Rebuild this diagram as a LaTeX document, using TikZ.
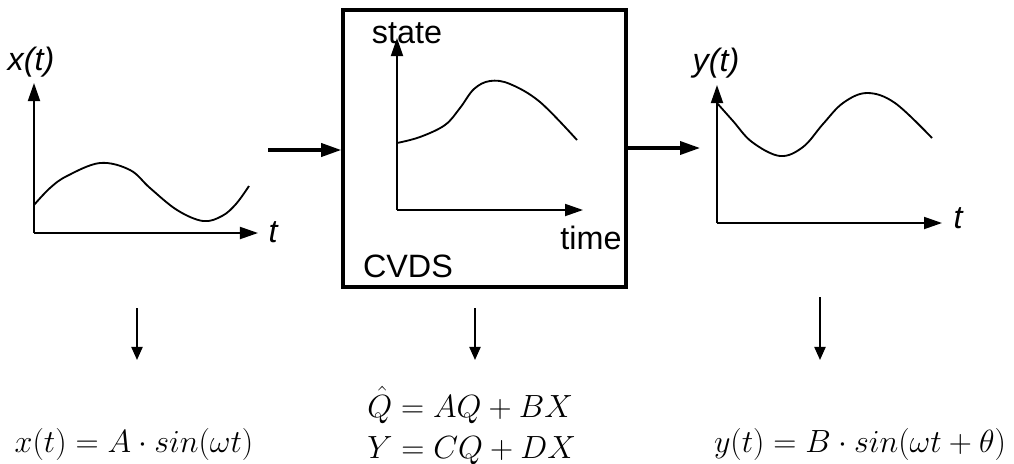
\documentclass[tikz,border=0pt]{standalone}
\usepackage{fontspec}
\setsansfont{Liberation Sans}
\usetikzlibrary{arrows.meta}
\newcommand{\ancho}[1]{\scalebox{1.1}{#1}}
\begin{document}
\begin{tikzpicture}
  [x=0.025cm,y=-0.025cm,
   eje/.style={line width=1.3pt,-{Triangle[length=0.45cm,width=0.3cm]}},
   flujo/.style={line width=2.2pt,-{Triangle[length=0.5cm,width=0.33cm]}},
   baja/.style={line width=1.4pt,-{Triangle[length=0.33cm,width=0.28cm]}},
   curva/.style={line width=1.3pt},
   txt/.style={font=\fontsize{23}{27}\selectfont\sffamily,inner sep=0pt},
   itxt/.style={font=\fontsize{23}{27}\selectfont\sffamily\itshape,inner sep=0pt},
   ecu/.style={font=\fontsize{20.74}{23}\selectfont,inner sep=0pt}]
  \useasboundingbox (0,0) rectangle (1014,463);

  \node[draw,line width=2.5pt,minimum width=7.075cm,minimum height=6.925cm,inner sep=0pt] (cvds) at (484.5,148.5) {};

  \coordinate (o1) at (34,233);
  \coordinate (y1) at (34,83);
  \coordinate (x1) at (258,233);
  \coordinate (o2) at (397,210);
  \coordinate (y2) at (397,38);
  \coordinate (x2) at (583,210);
  \coordinate (o3) at (717,223);
  \coordinate (y3) at (717,85);
  \coordinate (x3) at (942,223);

  \foreach \from/\to in {o1/y1,o1/x1,o2/y2,o2/x2,o3/y3,o3/x3}
    \draw[eje] (\from) -- (\to);

  \node[itxt] (xlab) at (31,62) {x(t)};
  \node[itxt] (t1) at (273,232) {t};
  \node[txt] (state) at (407,33) {state};
  \node[txt] (time) at (591,238) {time};
  \node[txt] (name) at (408,266) {CVDS};
  \node[itxt] (ylab) at (716,63) {y(t)};
  \node[itxt] (t3) at (958,218) {t};

  % curvas de las senales
  \draw[curva] plot[smooth,tension=0.6] coordinates {(34,205) (50,188) (67,176) (100,163) (130,170) (150,188) (177,210) (203,221) (222,216) (236,204) (249,186)};
  \draw[curva] plot[smooth,tension=0.6] coordinates {(397,143) (420,137) (445,125) (460,108) (474,89) (490,81) (510,84) (540,102) (577,140)};
  \draw[curva] plot[smooth,tension=0.6] coordinates {(717,103) (733,121) (752,142) (780,156) (803,147) (823,124) (843,103) (867,93) (895,103) (932,138)};

  \coordinate (ent) at (268,150);
  \coordinate (sal) at (700,148);
  \draw[flujo] (ent) -- (ent -| cvds.west);
  \draw[flujo] (cvds.east |- sal) -- (sal);

  \coordinate (a1) at (137,308);
  \coordinate (b1) at (137,360);
  \coordinate (a2) at (475,308);
  \coordinate (b2) at (475,360);
  \coordinate (a3) at (820,297);
  \coordinate (b3) at (820,360);
  \foreach \from/\to in {a1/b1,a2/b2,a3/b3}
    \draw[baja] (\from) -- (\to);

  \node[ecu,anchor=base] (eqx) at (134,452) {\ancho{$x(t) = A\cdot sin(\omega t)$}};
  \node[ecu,anchor=base west] (eqs) at (367,417) {\ancho{$\begin{array}[t]{@{}l@{}} \hat{Q} = AQ + BX\\[4pt] Y = CQ + DX \end{array}$}};
  \node[ecu,anchor=base] (eqy) at (860,452) {\ancho{$y(t) = B\cdot sin(\omega t+\theta)$}};

\end{tikzpicture}
\end{document}
